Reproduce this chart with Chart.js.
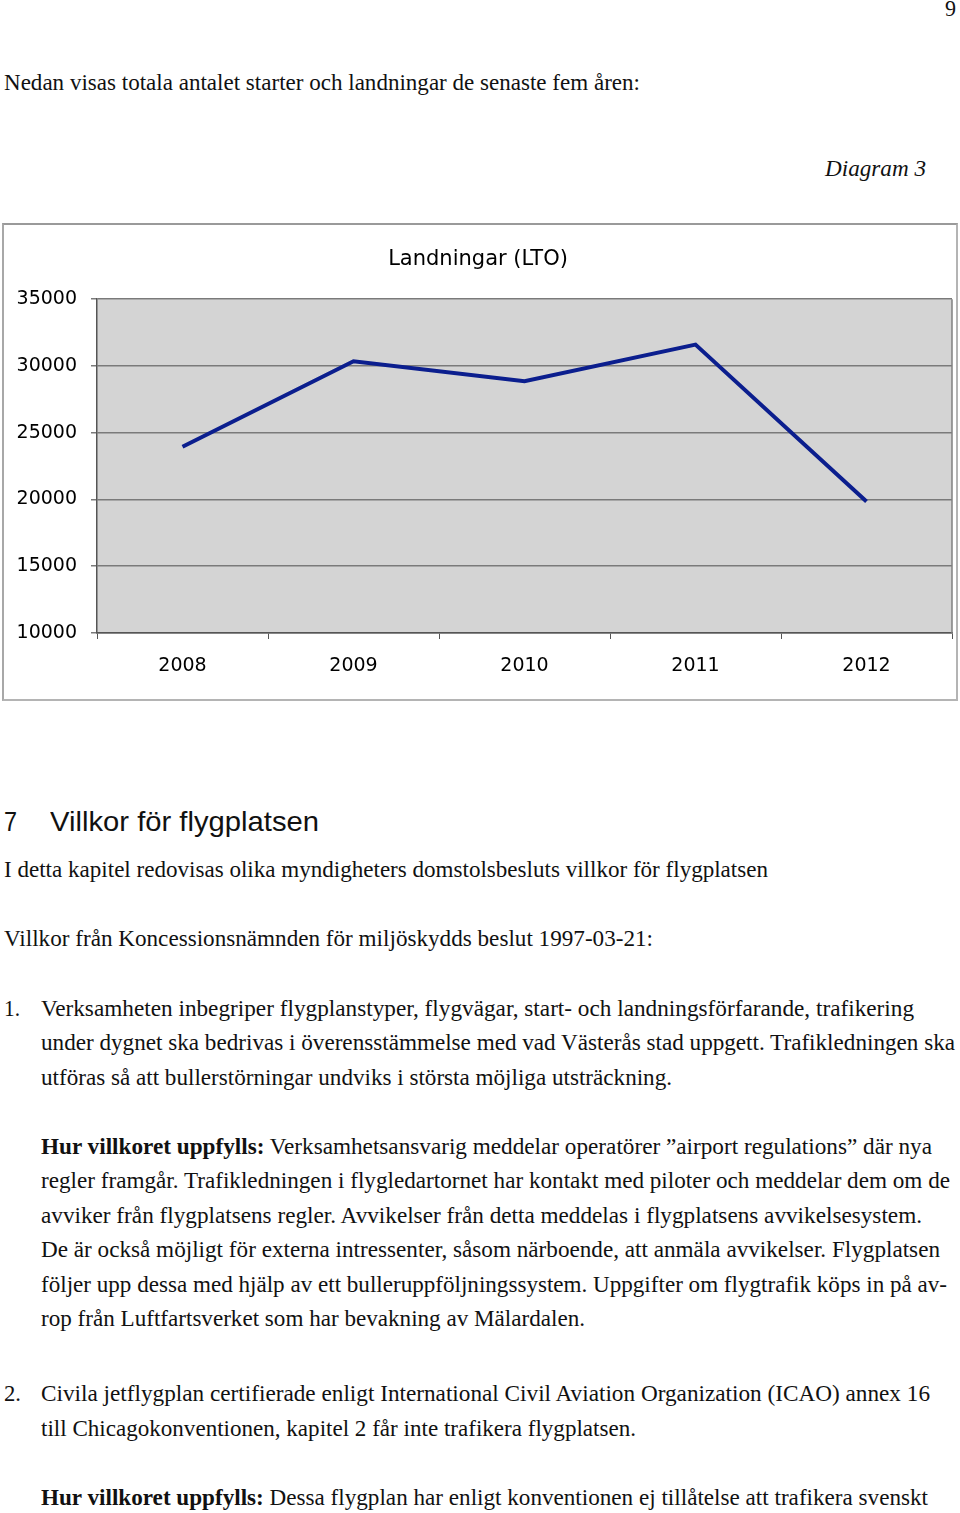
<!DOCTYPE html>
<html lang="sv">
<head>
<meta charset="utf-8">
<title>Landningar (LTO)</title>
<script src="https://cdn.jsdelivr.net/npm/chart.js@4.4.1/dist/chart.umd.min.js"></script>
<style>
  html, body { margin: 0; padding: 0; background: #fff; }
  #page { position: relative; width: 960px; height: 1513px; overflow: hidden; }
  .ln {
    position: absolute; white-space: nowrap; transform-origin: 0 50%;
    font-family: "Liberation Serif", "Times New Roman", serif; font-size: 24px;
    line-height: 30px; color: #111;
  }
  .ln b { font-weight: bold; }
  .it { font-style: italic; }
  .h { font-family: "Liberation Sans", Arial, sans-serif; font-size: 28px; line-height: 34px; }
  #frame {
    position: absolute; left: 2px; top: 223px; width: 952px; height: 474px;
    border: 2px solid #b4b4b4; border-top-color: #9a9a9a; border-left-color: #a8a8a8;
  }
  #frame canvas { display: block; }
</style>
</head>
<body>
<div id="page">
  <div class="ln" style="left:945px; top:-7px" data-w="11">9</div>
  <div class="ln" style="left:4px; top:67px" data-w="636">Nedan visas totala antalet starter och landningar de senaste fem åren:</div>
  <div class="ln it" style="left:825px; top:153px" data-w="101">Diagram 3</div>

  <div id="frame"><canvas id="chart" width="952" height="474"></canvas></div>

  <div class="ln h" style="left:4px; top:805px" data-w="13">7</div>
  <div class="ln h" style="left:50px; top:805px" data-w="269">Villkor för flygplatsen</div>
  <div class="ln" style="left:4px; top:854px" data-w="764">I detta kapitel redovisas olika myndigheters domstolsbesluts villkor för flygplatsen</div>
  <div class="ln" style="left:4px; top:923px" data-w="649">Villkor från Koncessionsnämnden för miljöskydds beslut 1997-03-21:</div>

  <div class="ln" style="left:4px; top:993px" data-w="16">1.</div>
  <div class="ln" style="left:41px; top:993px" data-w="873">Verksamheten inbegriper flygplanstyper, flygvägar, start- och landningsförfarande, trafikering</div>
  <div class="ln" style="left:41px; top:1027px" data-w="914">under dygnet ska bedrivas i överensstämmelse med vad Västerås stad uppgett. Trafikledningen ska</div>
  <div class="ln" style="left:41px; top:1062px" data-w="631">utföras så att bullerstörningar undviks i största möjliga utsträckning.</div>

  <div class="ln" style="left:41px; top:1131px" data-w="891"><b>Hur villkoret uppfylls:</b> Verksamhetsansvarig meddelar operatörer ”airport regulations” där nya</div>
  <div class="ln" style="left:41px; top:1165px" data-w="909">regler framgår. Trafikledningen i flygledartornet har kontakt med piloter och meddelar dem om de</div>
  <div class="ln" style="left:41px; top:1200px" data-w="881">avviker från flygplatsens regler. Avvikelser från detta meddelas i flygplatsens avvikelsesystem.</div>
  <div class="ln" style="left:41px; top:1234px" data-w="899">De är också möjligt för externa intressenter, såsom närboende, att anmäla avvikelser. Flygplatsen</div>
  <div class="ln" style="left:41px; top:1269px" data-w="906">följer upp dessa med hjälp av ett bulleruppföljningssystem. Uppgifter om flygtrafik köps in på av-</div>
  <div class="ln" style="left:41px; top:1303px" data-w="544">rop från Luftfartsverket som har bevakning av Mälardalen.</div>

  <div class="ln" style="left:4px; top:1378px" data-w="17">2.</div>
  <div class="ln" style="left:41px; top:1378px" data-w="889">Civila jetflygplan certifierade enligt International Civil Aviation Organization (ICAO) annex 16</div>
  <div class="ln" style="left:41px; top:1413px" data-w="595">till Chicagokonventionen, kapitel 2 får inte trafikera flygplatsen.</div>

  <div class="ln" style="left:41px; top:1482px" data-w="887"><b>Hur villkoret uppfylls:</b> Dessa flygplan har enligt konventionen ej tillåtelse att trafikera svenskt</div>
</div>

<script>
// ── Data ──────────────────────────────────────────────────────────────────
const YEARS = ['2008', '2009', '2010', '2011', '2012'];
const LANDINGS = [23950, 30350, 28850, 31600, 19850];
const Y_MIN = 10000;
const Y_MAX = 35000;
const Y_STEP = 5000;
const TITLE = 'Landningar (LTO)';

// squeeze each text line to the width it has in the scanned page
document.querySelectorAll('.ln').forEach(el => {
  const w = Number(el.dataset.w);
  const actual = el.getBoundingClientRect().width;
  if (w && actual) el.style.transform = `scaleX(${w / actual})`;
});

// grey plot area + right border, like the old Excel chart
const plotBg = {
  id: 'plotBg',
  beforeDraw(chart) {
    const { ctx, chartArea: a } = chart;
    ctx.save();
    ctx.fillStyle = '#d4d4d4';
    ctx.fillRect(a.left, a.top, a.right - a.left, a.bottom - a.top);
    ctx.restore();
  },
  afterDatasetsDraw(chart) {
    const { ctx, chartArea: a } = chart;
    ctx.save();
    ctx.strokeStyle = '#808080';
    ctx.lineWidth = 1.5;
    ctx.beginPath();
    ctx.moveTo(a.right, a.top);
    ctx.lineTo(a.right, a.bottom);
    ctx.stroke();
    ctx.restore();
  },
};

const tickFont = { family: '"DejaVu Sans", Verdana, sans-serif', size: 19 };

new Chart(document.getElementById('chart'), {
  type: 'line',
  plugins: [plotBg],
  data: {
    labels: YEARS,
    datasets: [{
      label: TITLE,
      data: LANDINGS,
      borderColor: '#0b1e8e',
      borderWidth: 4,
      pointRadius: 0,
      tension: 0,
    }],
  },
  options: {
    responsive: false,
    animation: false,
    layout: { padding: { left: 0, right: 4, top: 0, bottom: 0 } },
    plugins: {
      legend: { display: false },
      tooltip: { enabled: false },
      title: {
        display: true,
        text: TITLE,
        color: '#000',
        font: { family: '"DejaVu Sans", Verdana, sans-serif', size: 21, weight: 'normal' },
        padding: { top: 22, bottom: 27 },
      },
    },
    scales: {
      x: {
        offset: true,
        grid: { offset: true, drawOnChartArea: false, drawTicks: true, tickLength: 6, color: '#555' },
        border: { display: true, color: '#555', width: 1.5 },
        ticks: { color: '#000', font: tickFont, padding: 16, maxRotation: 0 },
        afterFit(scale) { scale.height = 66; },
      },
      y: {
        min: Y_MIN,
        max: Y_MAX,
        ticks: {
          stepSize: Y_STEP,
          color: '#000',
          font: tickFont,
          padding: 14,
          callback: v => String(v),
        },
        grid: { color: '#7a7a7a', lineWidth: 1.5, tickLength: 6 },
        border: { display: true, color: '#555', width: 1.5 },
        afterFit(scale) { scale.width = 93; },
      },
    },
  },
});
</script>
</body>
</html>
